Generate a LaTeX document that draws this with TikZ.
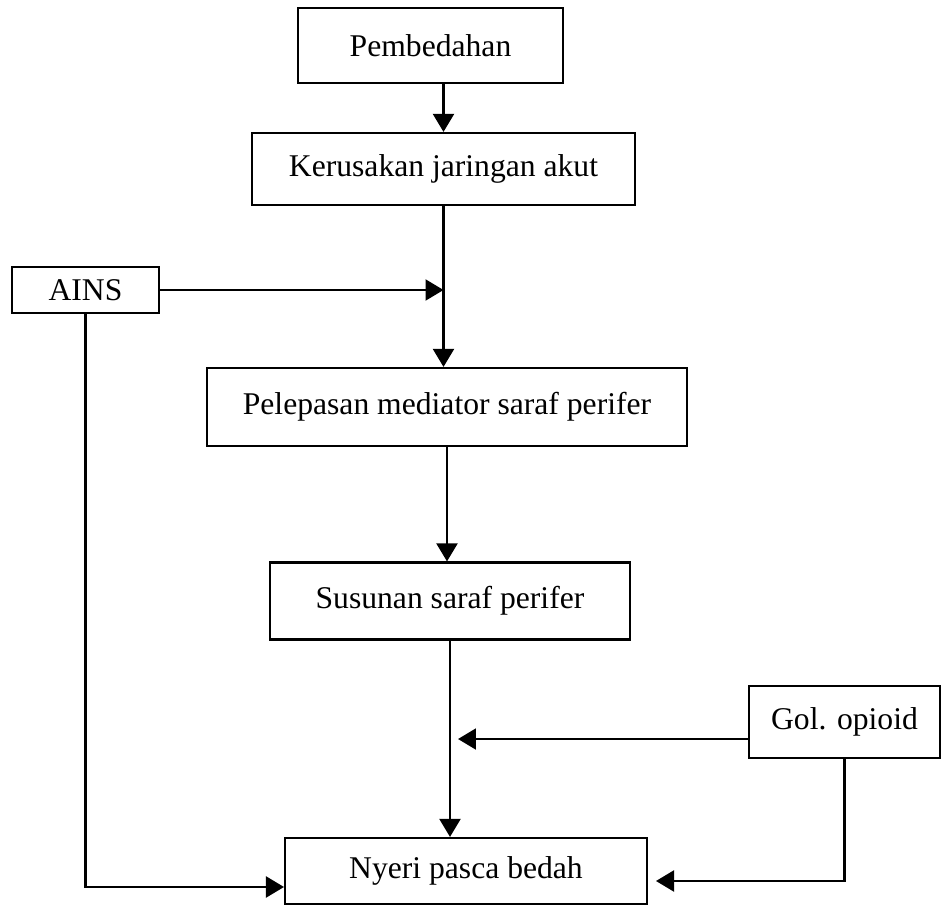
\documentclass[tikz,border=0pt]{standalone}
\usepackage{fontspec}
\setmainfont{Liberation Serif}
\usetikzlibrary{arrows.meta}

\begin{document}
\begin{tikzpicture}[x=0.02cm,y=-0.02cm,
  box/.style={draw,line width=1.2pt,inner sep=0pt,font=\fontsize{18}{20}\selectfont},
  arr/.style={line width=1.2pt,-{Triangle[length=0.36cm,width=0.42cm]}}]
  \useasboundingbox (0,0) rectangle (941,909);
  % boxes
  \node[box,minimum width=5.3cm,minimum height=1.5cm] (pembedahan) at (430.5,45.5) {Pembedahan};
  \node[box,minimum width=7.66cm,minimum height=1.44cm] (kerusakan) at (443.5,169) {Kerusakan jaringan akut};
  \node[box,minimum width=2.94cm,minimum height=0.92cm] (ains) at (85.5,290) {AINS};
  \node[box,minimum width=9.6cm,minimum height=1.56cm] (pelepasan) at (447,407) {Pelepasan mediator saraf perifer};
  \node[box,minimum width=7.2cm,minimum height=1.54cm] (susunan) at (450,601) {Susunan saraf perifer};
  \node[box,minimum width=3.82cm,minimum height=1.44cm] (gol) at (844.5,722) {Gol. opioid};
  \node[box,minimum width=7.24cm,minimum height=1.32cm] (nyeri) at (466,871) {Nyeri pasca bedah};
  % main chain
  \draw[arr] (pembedahan.south -| kerusakan.north) -- (kerusakan.north);
  \draw[arr] (kerusakan.south) -- (kerusakan.south |- pelepasan.north);
  \draw[arr] (pelepasan.south) -- (pelepasan.south |- susunan.north);
  \draw[arr] (susunan.south) -- (susunan.south |- nyeri.north);
  % AINS
  \draw[arr] (ains.east) -- (kerusakan.south |- ains.east);
  \draw[arr] (ains.south) |- ([yshift=-0.32cm]nyeri.west);
  % opioid
  \draw[arr,shorten >=0.16cm] (gol.190) -- (susunan.south |- gol.190);
  \draw[arr,shorten >=0.16cm] (gol.south) |- ([yshift=-0.2cm]nyeri.east);
\end{tikzpicture}
\end{document}
